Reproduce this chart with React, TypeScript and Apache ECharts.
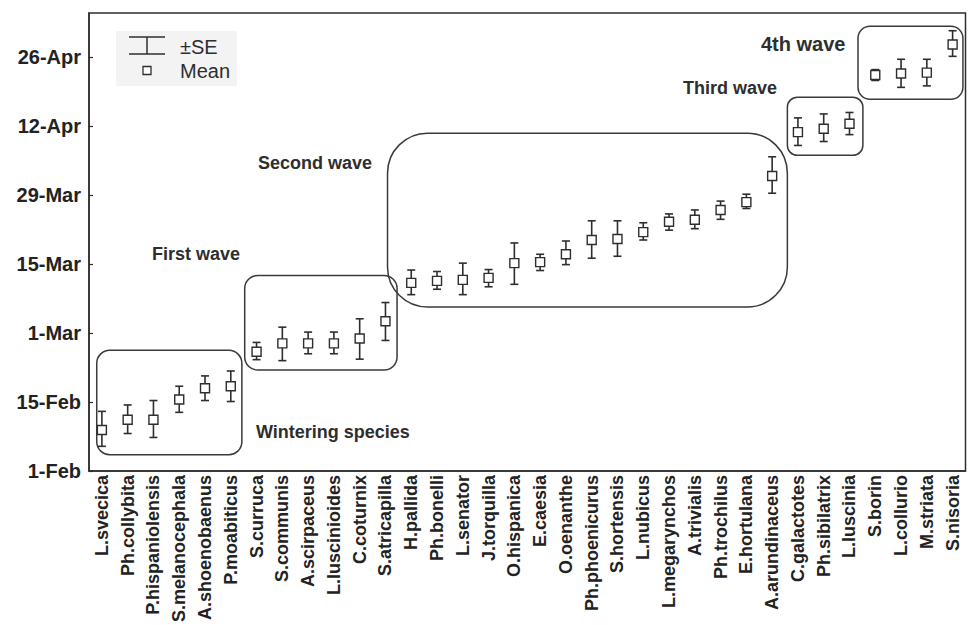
import React, { useEffect, useRef } from "react";
import * as echarts from "echarts";

const categories = [
  "L.svecica", "Ph.collybita", "P.hispaniolensis", "S.melanocephala", "A.shoenobaenus", "P.moabiticus",
  "S.curruca", "S.communis", "A.scirpaceus", "L.luscinioides", "C.coturnix", "S.atricapilla",
  "H.pallida", "Ph.bonelli", "L.senator", "J.torquilla", "O.hispanica", "E.caesia", "O.oenanthe",
  "Ph.phoenicurus", "S.hortensis", "L.nubicus", "L.megarynchos", "A.trivialis", "Ph.trochilus",
  "E.hortulana", "A.arundinaceus", "C.galactotes", "Ph.sibilatrix", "L.luscinia", "S.borin",
  "L.collurio", "M.striata", "S.nisoria",
];
// days after 1-Feb
const means = [
  8.3, 10.4, 10.4, 14.5, 16.8, 17.2,
  24.2, 25.9, 25.9, 25.9, 26.9, 30.4,
  38.2, 38.6, 38.8, 39.2, 42.2, 42.4, 44.0,
  46.9, 47.1, 48.5, 50.6, 51.0, 53.0,
  54.6, 59.9, 68.8, 69.5, 70.5, 80.4,
  80.7, 80.9, 86.6,
];
const lows = [
  5.0, 7.6, 6.8, 11.9, 14.3, 14.1,
  22.6, 22.4, 23.8, 23.8, 22.7, 26.5,
  35.8, 36.9, 35.8, 37.4, 37.9, 40.7, 41.9,
  43.2, 43.6, 46.9, 48.9, 49.2, 51.1,
  53.3, 56.4, 66.1, 66.9, 68.3, 79.3,
  77.9, 78.2, 84.2,
];
const highs = [
  12.1, 13.4, 14.3, 17.2, 19.3, 20.3,
  26.1, 29.2, 28.2, 28.2, 30.9, 34.2,
  40.8, 40.5, 42.2, 40.9, 46.3, 44.0, 46.7,
  50.8, 50.8, 50.4, 52.2, 53.0, 54.8,
  56.2, 63.8, 71.7, 72.5, 72.8, 81.5,
  83.6, 83.6, 89.4,
];
const yTickValues = [0, 14, 28, 42, 56, 70, 84];
const yTickLabels = ["1-Feb", "15-Feb", "1-Mar", "15-Mar", "29-Mar", "12-Apr", "26-Apr"];

// annotation groups (in category-index and day units)
const groupNames = ["Wintering species", "First wave", "Second wave", "Third wave", "4th wave"];
const groupFrom = [-0.2, 5.54, 11.08, 26.59, 29.33];
const groupTo = [5.43, 11.45, 26.59, 29.52, 33.4];
const groupLow = [3.3, 20.5, 33.3, 64.1, 75.5];
const groupHigh = [24.5, 39.7, 68.6, 75.9, 90.3];
const groupRadius = [13, 13, 40, 10, 12];

const FONT = "'Liberation Sans', Arial, Helvetica, sans-serif";
const INK = "#2e2e2e";

export default function App() {
  const ref = useRef<HTMLDivElement>(null);
  useEffect(() => {
    document.body.style.margin = "0";
    const chart = echarts.init(ref.current!, null, { renderer: "svg" });

    const px = (api: any, xi: number, y: number) => {
      const base = Math.max(0, Math.min(categories.length - 1, Math.round(xi)));
      const p = api.coord([base, y]);
      const bw = api.size([1, 0])[0];
      return [p[0] + (xi - base) * bw, p[1]];
    };

    const errData = categories.map((_, i) => [i, lows[i], highs[i], means[i]]);
    const boxData = groupNames.map((_, i) => [i]);

    const option: any = {
      animation: false,
      backgroundColor: "#ffffff",
      textStyle: { fontFamily: FONT },
      grid: {
        left: 89,
        top: 13,
        right: 2.5,
        bottom: 152,
        show: true,
        borderColor: INK,
        borderWidth: 1.5,
        backgroundColor: "transparent",
      },
      xAxis: {
        type: "category",
        data: categories,
        boundaryGap: true,
        axisLine: { lineStyle: { color: INK, width: 1.5 } },
        axisTick: { inside: true, length: 5, interval: 0, lineStyle: { color: INK, width: 1.2 } },
        axisLabel: {
          rotate: 90,
          interval: 0,
          margin: 4,
          fontSize: 18,
          fontWeight: "bold",
          color: "#222",
          fontFamily: FONT,
        },
        splitLine: { show: false },
      },
      yAxis: {
        type: "value",
        min: 0,
        max: 93,
        interval: 14,
        axisLine: { show: true, lineStyle: { color: INK, width: 1.5 } },
        axisTick: { show: true, inside: true, length: 4, customValues: yTickValues, lineStyle: { color: INK, width: 1.2 } },
        axisLabel: {
          customValues: yTickValues,
          formatter: (v: number) => {
            const k = yTickValues.indexOf(v);
            return k >= 0 ? yTickLabels[k] : "";
          },
          margin: 8,
          fontSize: 20,
          fontWeight: "bold",
          color: "#222",
          fontFamily: FONT,
        },
        splitLine: { show: false },
      },
      series: [
        {
          type: "custom",
          clip: false,
          silent: true,
          data: boxData,
          renderItem: (params: any, api: any) => {
            const g = api.value(0);
            const tl = px(api, groupFrom[g], groupHigh[g]);
            const br = px(api, groupTo[g], groupLow[g]);
            return {
              type: "rect",
              shape: { x: tl[0], y: tl[1], width: br[0] - tl[0], height: br[1] - tl[1], r: groupRadius[g] },
              style: { fill: "none", stroke: "#3a3a3a", lineWidth: 1.5 },
            };
          },
        },
        {
          type: "custom",
          clip: false,
          data: errData,
          encode: { x: 0, y: [1, 2, 3] },
          renderItem: (params: any, api: any) => {
            const x = api.value(0);
            const lo = api.coord([x, api.value(1)]);
            const hi = api.coord([x, api.value(2)]);
            const m = api.coord([x, api.value(3)]);
            const cap = 4;
            const s = 9;
            const st = { stroke: INK, lineWidth: 1.6 };
            return {
              type: "group",
              children: [
                { type: "line", shape: { x1: lo[0], y1: lo[1], x2: hi[0], y2: hi[1] }, style: st },
                { type: "line", shape: { x1: lo[0] - cap, y1: lo[1], x2: lo[0] + cap, y2: lo[1] }, style: st },
                { type: "line", shape: { x1: hi[0] - cap, y1: hi[1], x2: hi[0] + cap, y2: hi[1] }, style: st },
                {
                  type: "rect",
                  shape: { x: m[0] - s / 2, y: m[1] - s / 2, width: s, height: s },
                  style: { fill: "#ffffff", stroke: INK, lineWidth: 1.4 },
                },
              ],
            };
          },
        },
      ],
      graphic: [
        // legend
        { type: "rect", shape: { x: 116, y: 31, width: 121, height: 55 }, style: { fill: "#f3f3f3" }, z: 1 },
        { type: "line", shape: { x1: 129, y1: 37, x2: 165, y2: 37 }, style: { stroke: INK, lineWidth: 1.5 }, z: 2 },
        { type: "line", shape: { x1: 129, y1: 54, x2: 165, y2: 54 }, style: { stroke: INK, lineWidth: 1.5 }, z: 2 },
        { type: "line", shape: { x1: 147, y1: 37, x2: 147, y2: 54 }, style: { stroke: INK, lineWidth: 1.5 }, z: 2 },
        { type: "rect", shape: { x: 143, y: 66.5, width: 8, height: 8 }, style: { fill: "#fff", stroke: INK, lineWidth: 1.3 }, z: 2 },
        { type: "text", x: 180, y: 47, z: 2, style: { text: "±SE", font: `20px ${FONT}`, fill: INK, textVerticalAlign: "middle" } },
        { type: "text", x: 180, y: 71, z: 2, style: { text: "Mean", font: `20px ${FONT}`, fill: INK, textVerticalAlign: "middle" } },
        // group labels
        { type: "text", x: 256, y: 432, style: { text: groupNames[0], font: `bold 18px ${FONT}`, fill: INK, textVerticalAlign: "middle" } },
        { type: "text", x: 152, y: 254, style: { text: groupNames[1], font: `bold 18px ${FONT}`, fill: INK, textVerticalAlign: "middle" } },
        { type: "text", x: 258, y: 163, style: { text: groupNames[2], font: `bold 18px ${FONT}`, fill: INK, textVerticalAlign: "middle" } },
        { type: "text", x: 683, y: 87.5, style: { text: groupNames[3], font: `bold 18px ${FONT}`, fill: INK, textVerticalAlign: "middle" } },
        { type: "text", x: 761, y: 43.5, style: { text: groupNames[4], font: `bold 20px ${FONT}`, fill: INK, textVerticalAlign: "middle" } },
      ],
    };
    chart.setOption(option);
    return () => chart.dispose();
  }, []);
  return <div ref={ref} style={{ width: 968, height: 625 }} />;
}
